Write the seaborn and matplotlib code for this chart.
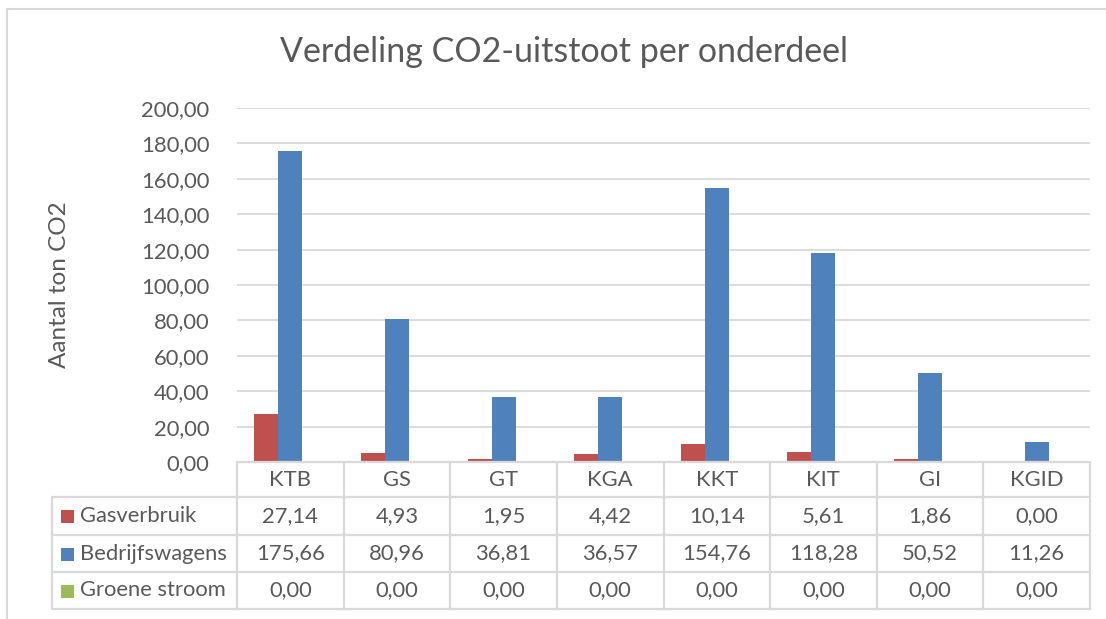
import matplotlib
matplotlib.use("Agg")
import matplotlib.pyplot as plt
import matplotlib.transforms as mtransforms
from matplotlib.lines import Line2D
from matplotlib.patches import Rectangle
import seaborn as sns
import pandas as pd

categories = ["KTB", "GS", "GT", "KGA", "KKT", "KIT", "GI", "KGID"]
series_names = ["Gasverbruik", "Bedrijfswagens", "Groene stroom"]
gasverbruik = [27.14, 4.93, 1.95, 4.42, 10.14, 5.61, 1.86, 0.00]
bedrijfswagens = [175.66, 80.96, 36.81, 36.57, 154.76, 118.28, 50.52, 11.26]
groene_stroom = [0.00, 0.00, 0.00, 0.00, 0.00, 0.00, 0.00, 0.00]
yticks = [0, 20, 40, 60, 80, 100, 120, 140, 160, 180, 200]
title = "Verdeling CO2-uitstoot per onderdeel"
ylabel = "Aantal ton CO2"

colors = ["#C0504D", "#4F81BD", "#9BBB59"]
TXT = "#595959"
GRID = "#D9D9D9"
FONT = ["Lato", "DejaVu Sans"]
FS = 15.8

sns.set_theme(style="white")
plt.rcParams["font.family"] = FONT

series_values = [gasverbruik, bedrijfswagens, groene_stroom]
rows = []
for name, vals in zip(series_names, series_values):
    for c, v in zip(categories, vals):
        rows.append({"cat": c, "serie": name, "val": v})
df = pd.DataFrame(rows)

W, H = 1106, 619
fig = plt.figure(figsize=(W / 100, H / 100), dpi=100)

def fx(px):
    return px / W

def fy(py):
    return 1 - py / H

left, right, top, bottom = 237, 1090, 108, 462
ax = fig.add_axes([fx(left), fy(bottom), fx(right - left), (bottom - top) / H])

sns.barplot(data=df, x="cat", y="val", hue="serie", order=categories,
            hue_order=series_names, palette=colors, width=0.675, gap=0,
            saturation=1, linewidth=0, ax=ax, legend=False, errorbar=None)

ax.set_ylim(0, 200)
ax.set_xlim(-0.5, len(categories) - 0.5)
ax.set_yticks(yticks)
ax.set_yticklabels([f"{t:.2f}".replace(".", ",") for t in yticks],
                   fontsize=FS, color=TXT)
ax.tick_params(axis="y", length=0, pad=20)
ax.set_xticks([])
ax.set_xlabel("")
ax.set_ylabel("")
for s in ax.spines.values():
    s.set_visible(False)
ax.grid(axis="y", color=GRID, linewidth=1.3)
ax.set_axisbelow(True)

# Outer frame
fig.add_artist(Rectangle((fx(7), fy(1000)), fx(1200), (1000 - 9) / H,
                         transform=fig.transFigure, fill=False,
                         edgecolor=GRID, linewidth=1.5))

fig.text(fx(564), fy(52), title, ha="center", va="center", fontsize=24.5, color=TXT)
fig.text(fx(60), fy(285), ylabel, ha="center", va="center", rotation=90,
         fontsize=17.5, color=TXT)

# Data table
blend = mtransforms.blended_transform_factory(ax.transData, fig.transFigure)
row_edges = [462, 497, 535, 572, 609]
n = len(categories)
lw = 1.6
for i in range(n + 1):
    fig.add_artist(Line2D([i - 0.5, i - 0.5], [fy(462), fy(609)],
                          transform=blend, color=GRID, linewidth=lw))
fig.add_artist(Line2D([-0.5, n - 0.5], [fy(462), fy(462)], transform=blend,
                      color=GRID, linewidth=lw))
for ry in row_edges[1:]:
    fig.add_artist(Line2D([fx(52), fx(right)], [fy(ry), fy(ry)],
                          transform=fig.transFigure, color=GRID, linewidth=lw))
fig.add_artist(Line2D([fx(52), fx(52)], [fy(497), fy(609)],
                      transform=fig.transFigure, color=GRID, linewidth=lw))

hy = (row_edges[0] + row_edges[1]) / 2
for i, c in enumerate(categories):
    fig.text(i, fy(hy), c, transform=blend, ha="center", va="center",
             fontsize=FS, color=TXT)

for r, (name, vals, col) in enumerate(zip(series_names, series_values, colors)):
    cy = (row_edges[r + 1] + row_edges[r + 2]) / 2
    fig.add_artist(Rectangle((fx(61), fy(cy + 7)), fx(13), 13 / H,
                             transform=fig.transFigure, facecolor=col,
                             edgecolor="none"))
    fig.text(fx(80), fy(cy), name, ha="left", va="center", fontsize=FS, color=TXT)
    for i, v in enumerate(vals):
        fig.text(i, fy(cy), f"{v:.2f}".replace(".", ","), transform=blend,
                 ha="center", va="center", fontsize=FS, color=TXT)

fig.savefig("out.png", dpi=100)
